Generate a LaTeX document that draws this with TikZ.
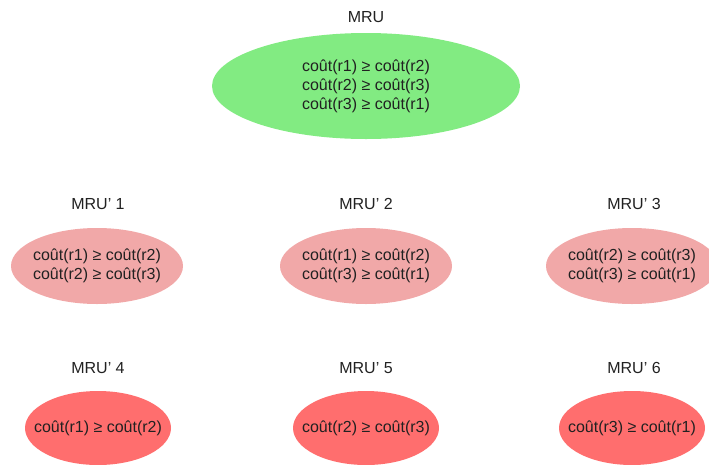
\documentclass[tikz,border=0pt]{standalone}
\usepackage{fontspec}
\setmainfont{Liberation Sans}
\usetikzlibrary{shapes.geometric}
\definecolor{mgreen}{RGB}{130,235,130}
\definecolor{mpink}{RGB}{241,168,168}
\definecolor{mred}{RGB}{255,110,110}
\definecolor{mtext}{RGB}{33,33,33}
\begin{document}
\begin{tikzpicture}[x=1pt,y=-1pt,
  every node/.style={font=\fontsize{16}{19}\selectfont, text=mtext},
  ell/.style={ellipse, inner sep=-25pt, align=center},
  big/.style={ell, fill=mgreen, minimum width=308pt, minimum height=106pt},
  mid/.style={ell, fill=mpink, minimum width=172pt, minimum height=76pt},
  low/.style={ell, fill=mred, minimum width=146pt, minimum height=74pt},
  lbl/.style={inner sep=0pt}]
\useasboundingbox (0,0) rectangle (709,464);
\node[lbl] (t0) at (366,17) {MRU};
\node[big] (e0) at (366,86) {coût(r1) ≥ coût(r2)\\coût(r2) ≥ coût(r3)\\coût(r3) ≥ coût(r1)};
\node[lbl] (t1) at (98,204) {MRU’ 1};
\node[lbl] (t2) at (366,204) {MRU’ 2};
\node[lbl] (t3) at (634,204) {MRU’ 3};
\node[mid] (e1) at (97,266) {coût(r1) ≥ coût(r2)\\coût(r2) ≥ coût(r3)};
\node[mid] (e2) at (366,266) {coût(r1) ≥ coût(r2)\\coût(r3) ≥ coût(r1)};
\node[mid] (e3) at (632,266) {coût(r2) ≥ coût(r3)\\coût(r3) ≥ coût(r1)};
\node[lbl] (t4) at (98,368) {MRU’ 4};
\node[lbl] (t5) at (366,368) {MRU’ 5};
\node[lbl] (t6) at (634,368) {MRU’ 6};
\node[low] (e4) at (98,428) {coût(r1) ≥ coût(r2)};
\node[low] (e5) at (366,428) {coût(r2) ≥ coût(r3)};
\node[low] (e6) at (632,428) {coût(r3) ≥ coût(r1)};
\end{tikzpicture}
\end{document}
